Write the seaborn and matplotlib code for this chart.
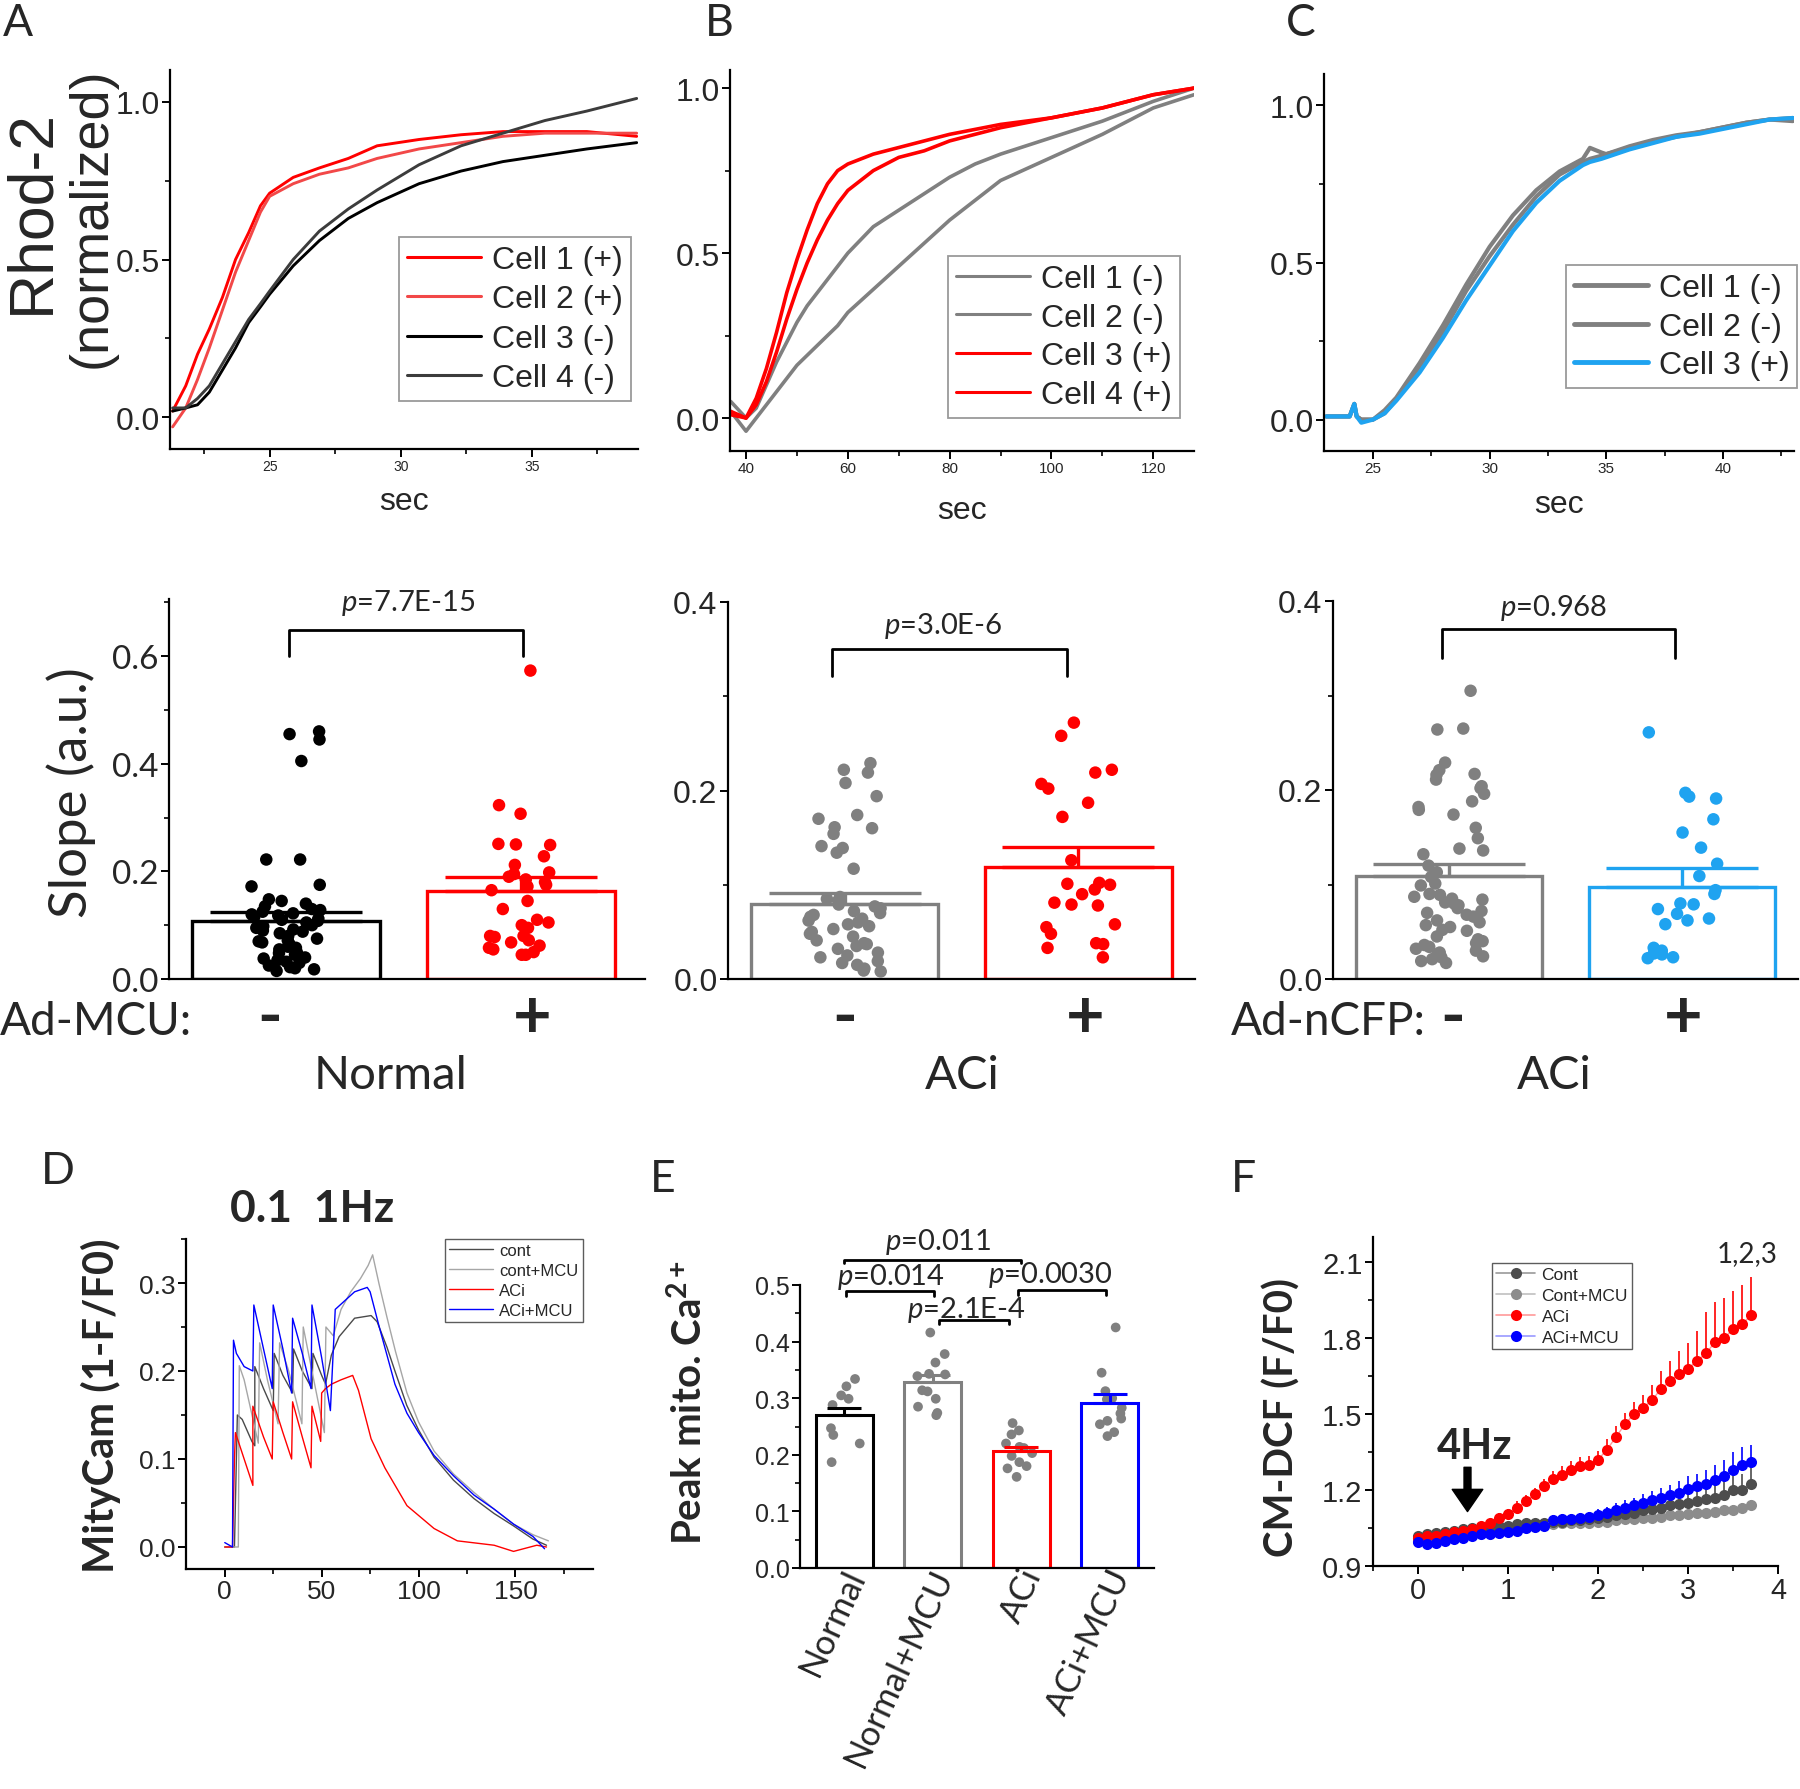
import numpy as np
import matplotlib
matplotlib.use('Agg')
import matplotlib.pyplot as plt
import matplotlib.transforms as transforms
import seaborn as sns
from matplotlib.ticker import MultipleLocator, FormatStrFormatter
from matplotlib.lines import Line2D

# ---------------- A: Rhod-2 traces, Normal ----------------
a_time = [21.3, 21.8, 22.25, 22.7, 23.2, 23.7, 24.2, 24.65, 25.0, 25.9, 26.9, 28.0, 29.1, 30.7, 32.3, 33.9, 35.5, 37.1, 39.0]
a_cell1 = [0.02, 0.10, 0.20, 0.28, 0.38, 0.50, 0.585, 0.67, 0.71, 0.76, 0.79, 0.82, 0.86, 0.88, 0.895, 0.905, 0.905, 0.905, 0.89]
a_cell2 = [-0.03, 0.03, 0.12, 0.22, 0.34, 0.46, 0.56, 0.65, 0.70, 0.74, 0.77, 0.79, 0.82, 0.85, 0.87, 0.89, 0.90, 0.90, 0.90]
a_cell3 = [0.02, 0.03, 0.04, 0.08, 0.15, 0.22, 0.30, 0.35, 0.39, 0.48, 0.56, 0.63, 0.68, 0.74, 0.78, 0.81, 0.83, 0.85, 0.87]
a_cell4 = [0.03, 0.03, 0.06, 0.10, 0.17, 0.24, 0.31, 0.36, 0.40, 0.50, 0.59, 0.66, 0.72, 0.80, 0.86, 0.90, 0.94, 0.97, 1.01]

# ---------------- B: Rhod-2 traces, ACi ----------------
b_time = [37, 40, 42, 44, 46, 48, 50, 52, 54, 56, 58, 60, 65, 70, 75, 80, 85, 90, 100, 110, 120, 128]
b_cell1 = [0.05, 0.0, 0.03, 0.10, 0.17, 0.23, 0.29, 0.34, 0.38, 0.42, 0.46, 0.50, 0.58, 0.63, 0.68, 0.73, 0.77, 0.80, 0.85, 0.90, 0.96, 1.0]
b_cell2 = [0.02, -0.04, 0.0, 0.04, 0.08, 0.12, 0.16, 0.19, 0.22, 0.25, 0.28, 0.32, 0.39, 0.46, 0.53, 0.60, 0.66, 0.72, 0.79, 0.86, 0.94, 0.98]
b_cell3 = [0.02, 0.0, 0.06, 0.15, 0.26, 0.38, 0.48, 0.57, 0.65, 0.71, 0.75, 0.77, 0.80, 0.82, 0.84, 0.86, 0.875, 0.89, 0.91, 0.94, 0.98, 1.0]
b_cell4 = [0.01, 0.0, 0.04, 0.11, 0.20, 0.30, 0.39, 0.47, 0.54, 0.60, 0.65, 0.69, 0.75, 0.79, 0.81, 0.84, 0.86, 0.88, 0.91, 0.94, 0.98, 1.0]

# ---------------- C: Rhod-2 traces, ACi + nCFP ----------------
c_time = [23, 24, 24.2, 24.3, 24.5, 25, 25.5, 26, 27, 28, 29, 30, 31, 32, 33, 34, 34.3, 34.8, 35, 36, 37, 38, 39, 40, 41, 42, 43]
c_cell1 = [0.01, 0.01, 0.05, 0.01, 0.0, 0.0, 0.03, 0.07, 0.18, 0.30, 0.43, 0.55, 0.65, 0.73, 0.79, 0.83, 0.865, 0.85, 0.845, 0.87, 0.89, 0.905, 0.915, 0.93, 0.945, 0.955, 0.95]
c_cell2 = [0.01, 0.01, 0.05, 0.01, 0.0, 0.0, 0.02, 0.065, 0.17, 0.28, 0.41, 0.52, 0.62, 0.71, 0.78, 0.82, 0.83, 0.84, 0.845, 0.865, 0.885, 0.90, 0.915, 0.93, 0.945, 0.955, 0.96]
c_cell3 = [0.01, 0.01, 0.05, 0.01, -0.01, 0.0, 0.02, 0.06, 0.15, 0.26, 0.38, 0.49, 0.60, 0.69, 0.76, 0.81, 0.82, 0.83, 0.835, 0.86, 0.88, 0.90, 0.91, 0.925, 0.94, 0.955, 0.96]

# ---------------- slope dots (bottom row) ----------------
normal_minus = [0.46, 0.455, 0.445, 0.405, 0.222, 0.222, 0.175, 0.172, 0.148, 0.145, 0.14, 0.135, 0.13,
                0.128, 0.125, 0.122, 0.12, 0.118, 0.115, 0.112, 0.11, 0.108, 0.105, 0.10, 0.098, 0.095,
                0.092, 0.09, 0.088, 0.085, 0.08, 0.075, 0.072, 0.07, 0.068, 0.065, 0.06, 0.058, 0.055,
                0.05, 0.048, 0.045, 0.04, 0.038, 0.035, 0.032, 0.03, 0.025, 0.022, 0.02, 0.018, 0.015]
normal_plus = [0.573, 0.323, 0.307, 0.251, 0.249, 0.25, 0.228, 0.212, 0.198, 0.195, 0.19, 0.185, 0.18,
               0.175, 0.172, 0.165, 0.145, 0.13, 0.11, 0.105, 0.10, 0.095, 0.08, 0.08, 0.078, 0.072,
               0.068, 0.062, 0.058, 0.055, 0.05, 0.045, 0.045]
aci_minus = [0.229, 0.222, 0.219, 0.208, 0.194, 0.174, 0.170, 0.161, 0.16, 0.154, 0.141, 0.139, 0.134,
             0.117, 0.087, 0.085, 0.083, 0.079, 0.077, 0.075, 0.072, 0.068, 0.064, 0.060, 0.056, 0.053,
             0.05, 0.045, 0.041, 0.038, 0.037, 0.032, 0.028, 0.023, 0.019, 0.017, 0.011, 0.009, 0.008,
             0.07, 0.066, 0.062, 0.058, 0.048, 0.035, 0.025, 0.015]
aci_plus = [0.272, 0.258, 0.222, 0.219, 0.207, 0.202, 0.187, 0.172, 0.126, 0.102, 0.101, 0.1, 0.095,
            0.09, 0.081, 0.079, 0.078, 0.058, 0.055, 0.048, 0.038, 0.037, 0.033, 0.023]
cfp_minus = [0.305, 0.265, 0.264, 0.229, 0.221, 0.217, 0.216, 0.211, 0.204, 0.202, 0.196, 0.188, 0.182,
             0.179, 0.174, 0.160, 0.149, 0.138, 0.136, 0.132, 0.12, 0.113, 0.108, 0.101, 0.099, 0.089,
             0.087, 0.085, 0.084, 0.081, 0.078, 0.075, 0.072, 0.068, 0.066, 0.062, 0.06, 0.057, 0.052,
             0.051, 0.045, 0.042, 0.038, 0.036, 0.034, 0.032, 0.03, 0.026, 0.023, 0.021, 0.019, 0.017,
             0.09, 0.08, 0.07, 0.055, 0.04, 0.028, 0.024]
cfp_plus = [0.261, 0.197, 0.193, 0.191, 0.169, 0.155, 0.139, 0.122, 0.109, 0.094, 0.09, 0.08, 0.079,
            0.074, 0.069, 0.064, 0.062, 0.058, 0.033, 0.03, 0.027, 0.026, 0.023, 0.022]

slope_means = {'normal': [0.107, 0.164], 'aci': [0.080, 0.119], 'cfp': [0.109, 0.097]}
slope_sems = {'normal': [0.018, 0.025], 'aci': [0.011, 0.021], 'cfp': [0.013, 0.020]}

# ---------------- D: MityCam traces ----------------
d_cont_t = [0, 5, 6.5, 9, 14, 15.5, 15.5, 20, 25, 25.5, 30, 35, 35.5, 40, 45, 45.5, 50, 52, 55, 59, 67,
            75.5, 78.6, 83.7, 87.8, 93.9, 100, 108, 118, 128.6, 139, 149, 159, 166]
d_cont_v = [0.0, 0.0, 0.15, 0.145, 0.12, 0.115, 0.205, 0.18, 0.155, 0.22, 0.195, 0.175, 0.225, 0.20, 0.18,
            0.22, 0.195, 0.185, 0.218, 0.239, 0.26, 0.263, 0.256, 0.227, 0.20, 0.161, 0.133, 0.102, 0.076,
            0.055, 0.038, 0.024, 0.009, 0.002]
d_contm_t = [0, 7, 7.5, 10, 17.3, 18, 22, 27.5, 28.3, 33, 39.8, 40.5, 45, 51.4, 52.2, 56, 60, 65, 70, 74,
             76.3, 79.6, 83.7, 88, 94, 100, 108, 118, 128.6, 139, 149, 159, 167]
d_contm_v = [0.0, 0.0, 0.206, 0.19, 0.118, 0.232, 0.19, 0.14, 0.232, 0.20, 0.14, 0.25, 0.2, 0.13, 0.25,
             0.24, 0.27, 0.29, 0.305, 0.32, 0.332, 0.299, 0.261, 0.223, 0.175, 0.142, 0.109, 0.083, 0.062,
             0.043, 0.026, 0.014, 0.007]
d_aci_t = [0, 4, 5, 5.5, 10, 14.5, 14.5, 20, 24.5, 25, 30, 34.5, 35, 40, 44.5, 45, 49.5, 50, 52, 55, 60,
           66, 69, 75.5, 82.6, 94, 108, 120, 139, 149, 161, 166]
d_aci_v = [0.0, 0.0, 0.1, 0.13, 0.1, 0.07, 0.16, 0.125, 0.10, 0.165, 0.13, 0.10, 0.165, 0.125, 0.09, 0.16,
           0.12, 0.175, 0.18, 0.185, 0.19, 0.195, 0.178, 0.123, 0.09, 0.047, 0.021, 0.007, 0.002, -0.005,
           0.002, 0.0]
d_acim_t = [0, 4, 4.5, 6, 10, 14.5, 15, 20, 24.5, 25, 30, 34.5, 35, 40, 44.5, 45, 50, 54.5, 57, 62, 67,
            73.5, 75, 79.6, 83.7, 87.8, 94, 100, 108, 118, 128.6, 139, 149, 159, 165]
d_acim_v = [0.005, 0.0, 0.235, 0.22, 0.205, 0.20, 0.275, 0.225, 0.18, 0.275, 0.225, 0.175, 0.26, 0.22, 0.18,
            0.275, 0.215, 0.155, 0.27, 0.28, 0.29, 0.295, 0.29, 0.251, 0.218, 0.185, 0.152, 0.13, 0.104,
            0.081, 0.059, 0.043, 0.026, 0.012, -0.002]

# ---------------- E: peak mito Ca ----------------
e_groups = ['Normal', 'Normal+MCU', 'ACi', 'ACi+MCU']
e_normal = [0.334, 0.305, 0.321, 0.299, 0.288, 0.247, 0.235, 0.220, 0.187]
e_normal_mcu = [0.416, 0.378, 0.363, 0.339, 0.342, 0.343, 0.314, 0.312, 0.299, 0.285, 0.274, 0.270]
e_aci = [0.256, 0.243, 0.236, 0.220, 0.212, 0.214, 0.203, 0.198, 0.187, 0.180, 0.176, 0.161]
e_aci_mcu = [0.425, 0.345, 0.3125, 0.300, 0.298, 0.283, 0.264, 0.273, 0.260, 0.254, 0.240, 0.233]
e_means = [0.270, 0.328, 0.206, 0.292]
e_sems = [0.013, 0.013, 0.008, 0.015]

# ---------------- F: CM-DCF ----------------
f_time = [0.0, 0.1, 0.2, 0.3, 0.4, 0.5, 0.6, 0.7, 0.8, 0.9, 1.0, 1.1, 1.2, 1.3, 1.4, 1.5, 1.6, 1.7, 1.8,
          1.9, 2.0, 2.1, 2.2, 2.3, 2.4, 2.5, 2.6, 2.7, 2.8, 2.9, 3.0, 3.1, 3.2, 3.3, 3.4, 3.5, 3.6, 3.7]
f_cont = [1.02, 1.025, 1.03, 1.035, 1.04, 1.045, 1.05, 1.05, 1.055, 1.06, 1.06, 1.065, 1.07, 1.07, 1.07,
          1.075, 1.075, 1.08, 1.08, 1.085, 1.09, 1.095, 1.10, 1.105, 1.11, 1.12, 1.125, 1.13, 1.14, 1.145,
          1.15, 1.155, 1.165, 1.17, 1.18, 1.20, 1.20, 1.225]
f_cont_err = [0.01, 0.01, 0.01, 0.01, 0.01, 0.01, 0.01, 0.01, 0.01, 0.01, 0.01, 0.01, 0.01, 0.01, 0.01,
              0.01, 0.01, 0.01, 0.01, 0.01, 0.015, 0.02, 0.02, 0.025, 0.025, 0.03, 0.03, 0.035, 0.035,
              0.04, 0.04, 0.045, 0.05, 0.05, 0.055, 0.06, 0.065, 0.065]
f_contm = [1.0, 1.01, 1.02, 1.03, 1.035, 1.04, 1.04, 1.045, 1.05, 1.05, 1.055, 1.06, 1.06, 1.06, 1.065,
           1.065, 1.07, 1.07, 1.07, 1.07, 1.075, 1.075, 1.08, 1.085, 1.085, 1.09, 1.09, 1.095, 1.10, 1.10,
           1.105, 1.11, 1.11, 1.115, 1.12, 1.12, 1.13, 1.14]
f_contm_err = [0.01, 0.01, 0.01, 0.01, 0.01, 0.01, 0.01, 0.01, 0.01, 0.01, 0.01, 0.01, 0.01, 0.01, 0.01,
               0.01, 0.01, 0.01, 0.01, 0.01, 0.01, 0.01, 0.012, 0.012, 0.012, 0.012, 0.015, 0.015, 0.015,
               0.015, 0.015, 0.018, 0.018, 0.018, 0.02, 0.02, 0.02, 0.02]
f_aci = [1.01, 1.02, 1.02, 1.025, 1.035, 1.04, 1.045, 1.06, 1.07, 1.09, 1.105, 1.13, 1.155, 1.185, 1.215,
         1.245, 1.26, 1.28, 1.295, 1.30, 1.32, 1.36, 1.41, 1.46, 1.50, 1.525, 1.555, 1.60, 1.63, 1.66,
         1.68, 1.71, 1.74, 1.785, 1.80, 1.835, 1.855, 1.89]
f_aci_err = [0.01, 0.01, 0.01, 0.01, 0.01, 0.01, 0.01, 0.015, 0.015, 0.02, 0.02, 0.025, 0.025, 0.025, 0.03,
             0.03, 0.035, 0.035, 0.035, 0.035, 0.035, 0.04, 0.045, 0.045, 0.05, 0.05, 0.06, 0.07, 0.08,
             0.09, 0.10, 0.12, 0.165, 0.16, 0.16, 0.15, 0.155, 0.15]
f_acim = [0.995, 0.985, 0.99, 1.0, 1.005, 1.01, 1.02, 1.025, 1.025, 1.03, 1.035, 1.04, 1.05, 1.055, 1.06,
          1.08, 1.085, 1.085, 1.09, 1.095, 1.10, 1.11, 1.12, 1.13, 1.14, 1.15, 1.16, 1.17, 1.18, 1.19,
          1.205, 1.215, 1.225, 1.24, 1.255, 1.28, 1.30, 1.31]
f_acim_err = [0.01, 0.01, 0.01, 0.01, 0.01, 0.01, 0.01, 0.01, 0.01, 0.01, 0.015, 0.015, 0.015, 0.015,
              0.02, 0.02, 0.02, 0.02, 0.02, 0.02, 0.025, 0.025, 0.03, 0.03, 0.03, 0.035, 0.035, 0.04,
              0.04, 0.045, 0.05, 0.05, 0.055, 0.06, 0.065, 0.07, 0.07, 0.07]

RED = '#ff0000'
RED2 = '#f24848'
GREY = '#808080'
DGREY = '#3c3c3c'
SKY = '#1fa3f0'
BLUE = '#0000ff'
CAL = 'Lato'

sns.set_style('ticks')
plt.rcParams['font.family'] = ['Liberation Sans', 'DejaVu Sans']
plt.rcParams['mathtext.fontset'] = 'custom'
plt.rcParams['mathtext.rm'] = 'Lato'
plt.rcParams['mathtext.it'] = 'Lato:italic'
plt.rcParams['mathtext.bf'] = 'Lato:bold'

W, H = 1800, 1790
fig = plt.figure(figsize=(18, 17.9), dpi=100, facecolor='white')


def add_ax(l, t, r, b):
    return fig.add_axes([l / W, 1 - b / H, (r - l) / W, (b - t) / H])


def ftext(x, y, s, **kw):
    return fig.text(x / W, 1 - y / H, s, **kw)


def style(ax):
    sns.despine(ax=ax)
    for sp in ('left', 'bottom'):
        ax.spines[sp].set_linewidth(1.6)
        ax.spines[sp].set_color('black')
    ax.tick_params(which='major', direction='out', length=6, width=1.4, color='black', pad=1.5)
    ax.tick_params(which='minor', direction='out', length=3.5, width=1.2, color='black')


def trace_panel(ax, t, series, labels, colors, lw, xlim, ylim, xmaj, xmin, xfs, anchor, legfs, leglw, lsp):
    for y, lab, c in zip(series, labels, colors):
        sns.lineplot(x=t, y=y, color=c, lw=lw, label=lab, estimator=None, sort=False, ax=ax)
    ax.set_xlim(*xlim)
    ax.set_ylim(*ylim)
    style(ax)
    ax.xaxis.set_major_locator(MultipleLocator(xmaj))
    ax.xaxis.set_minor_locator(MultipleLocator(xmin))
    ax.yaxis.set_major_locator(MultipleLocator(0.5))
    ax.yaxis.set_minor_locator(MultipleLocator(0.25))
    ax.yaxis.set_major_formatter(FormatStrFormatter('%.1f'))
    ax.tick_params(axis='y', labelsize=23)
    ax.tick_params(axis='x', labelsize=xfs)
    ax.set_xlabel('')
    ax.set_ylabel('')
    leg = ax.legend(loc='upper left', bbox_to_anchor=anchor, fontsize=legfs, frameon=True,
                    fancybox=False, edgecolor=GREY, handlelength=2.3, handletextpad=0.35,
                    labelspacing=lsp, borderpad=0.25, borderaxespad=0)
    leg.get_frame().set_linewidth(1.3)
    for ln in leg.get_lines():
        ln.set_linewidth(leglw)


def bar_panel(ax, values, dot_colors, bar_colors, means, sems, width, cap, dot_size, jitter, ylim, ymaj, lw=2.4):
    groups = ['g%d' % i for i in range(len(values))]
    xs, ys = [], []
    for g, v in zip(groups, values):
        xs += [g] * len(v)
        ys += list(v)
    sns.stripplot(x=xs, y=ys, hue=xs, order=groups, hue_order=groups,
                  palette=dict(zip(groups, dot_colors)), jitter=jitter, size=dot_size,
                  linewidth=0, legend=False, ax=ax, zorder=3)
    ax.bar(range(len(groups)), means, width=width, color='white', edgecolor=bar_colors,
           linewidth=lw, zorder=1)
    for i, (m, s, c) in enumerate(zip(means, sems, bar_colors)):
        ax.errorbar(i, m, yerr=[[0], [s]], fmt='none', ecolor=c, elinewidth=lw,
                    capsize=cap, capthick=lw, zorder=4)
    ax.set_xlim(-0.5, len(groups) - 0.5)
    ax.set_ylim(*ylim)
    style(ax)
    ax.yaxis.set_major_locator(MultipleLocator(ymaj))
    ax.yaxis.set_minor_locator(MultipleLocator(ymaj / 2))
    ax.yaxis.set_major_formatter(FormatStrFormatter('%.1f'))
    ax.tick_params(axis='x', length=0)
    ax.set_xticks([])


def bracket(ax, x0, x1, ytop, ybot, txt, tx, ty, fs):
    ax.plot([x0, x0, x1, x1], [ybot, ytop, ytop, ybot], color='black', lw=2, clip_on=False, zorder=5)
    ax.text(tx, ty, txt, ha='center', va='center', fontsize=fs, family=CAL, clip_on=False)


np.random.seed(4)

# ---------------- top row ----------------
axA = add_ax(170, 71, 638, 450)
trace_panel(axA, a_time, [a_cell1, a_cell2, a_cell3, a_cell4],
            ['Cell 1 (+)', 'Cell 2 (+)', 'Cell 3 (-)', 'Cell 4 (-)'],
            [RED, RED2, 'black', DGREY], 2.1, (21.2, 39.05), (-0.1, 1.1), 5, 2.5, 10,
            (0.49, 0.56), 23, 2.2, 0.3)
axB = add_ax(730, 71, 1194, 452)
trace_panel(axB, b_time, [b_cell1, b_cell2, b_cell3, b_cell4],
            ['Cell 1 (-)', 'Cell 2 (-)', 'Cell 3 (+)', 'Cell 4 (+)'],
            [GREY, GREY, RED, RED], 2.6, (36.85, 128), (-0.1, 1.055), 20, 10, 11,
            (0.47, 0.512), 23, 2.2, 0.27)
axC = add_ax(1324, 75, 1794, 452)
trace_panel(axC, c_time, [c_cell1, c_cell2, c_cell3],
            ['Cell 1 (-)', 'Cell 2 (-)', 'Cell 3 (+)'],
            [GREY, GREY, SKY], 3.0, (22.9, 43.05), (-0.1, 1.1), 5, 2.5, 11,
            (0.515, 0.493), 23, 3.5, 0.27)

ftext(32, 212, 'Rhod-2', rotation=90, ha='center', va='center', fontsize=45)
ftext(92, 218, '(normalized)', rotation=90, ha='center', va='center', fontsize=39)
ftext(404, 502, 'sec', ha='center', va='center', fontsize=23)
ftext(962, 511, 'sec', ha='center', va='center', fontsize=23)
ftext(1559, 505, 'sec', ha='center', va='center', fontsize=23)

# ---------------- middle row ----------------
axA2 = add_ax(169, 600, 645, 980)
bar_panel(axA2, [normal_minus, normal_plus], ['black', RED], ['black', RED],
          slope_means['normal'], slope_sems['normal'], 0.8, 55, 9, 0.15, (0, 0.706), 0.2)
axA2.set_xlim(-0.5, 1.53)
axA2.tick_params(axis='y', labelsize=24)
for lab in axA2.get_yticklabels():
    lab.set_family(CAL)
bracket(axA2, 0.01, 1.01, 0.648, 0.60, '$p$=7.7E-15', 0.52, 0.70, 21)

axB2 = add_ax(728, 603, 1195, 980)
bar_panel(axB2, [aci_minus, aci_plus], [GREY, RED], [GREY, RED],
          slope_means['aci'], slope_sems['aci'], 0.8, 55, 9, 0.16, (0, 0.4), 0.2)
axB2.tick_params(axis='y', labelsize=23)
bracket(axB2, -0.055, 0.95, 0.350, 0.321, '$p$=3.0E-6', 0.42, 0.376, 21)

axC2 = add_ax(1333, 602, 1798, 980)
bar_panel(axC2, [cfp_minus, cfp_plus], [GREY, SKY], [GREY, SKY],
          slope_means['cfp'], slope_sems['cfp'], 0.8, 55, 9, 0.16, (0, 0.4), 0.2)
axC2.tick_params(axis='y', labelsize=23)
bracket(axC2, -0.03, 0.97, 0.370, 0.340, '$p$=0.968', 0.45, 0.394, 21)

ftext(71, 793, 'Slope (a.u.)', rotation=90, ha='center', va='center', fontsize=38, family=CAL)
for x, s in [(270, '-'), (532, '+'), (845, '-'), (1085, '+'), (1453, '-'), (1683, '+')]:
    ftext(x, 1019, s, ha='center', va='center', fontsize=48, family=CAL, weight='bold')
ftext(0, 1022, 'Ad-MCU:', ha='left', va='center', fontsize=33, family=CAL)
ftext(1231, 1022, 'Ad-nCFP:', ha='left', va='center', fontsize=33, family=CAL)
ftext(391, 1076, 'Normal', ha='center', va='center', fontsize=34, family=CAL)
ftext(962, 1076, 'ACi', ha='center', va='center', fontsize=34, family=CAL)
ftext(1554, 1076, 'ACi', ha='center', va='center', fontsize=34, family=CAL)

# ---------------- D ----------------
axD = add_ax(186, 1240, 593, 1570)
for t, v, c, lab in [(d_cont_t, d_cont_v, '#4a4a4a', 'cont'),
                     (d_contm_t, d_contm_v, '#a6a6a6', 'cont+MCU'),
                     (d_aci_t, d_aci_v, RED, 'ACi'),
                     (d_acim_t, d_acim_v, BLUE, 'ACi+MCU')]:
    sns.lineplot(x=t, y=v, color=c, lw=1.0, label=lab, estimator=None, sort=False, ax=axD)
axD.set_xlim(-20, 190)
axD.set_ylim(-0.025, 0.35)
style(axD)
axD.xaxis.set_major_locator(MultipleLocator(50))
axD.xaxis.set_minor_locator(MultipleLocator(25))
axD.yaxis.set_major_locator(MultipleLocator(0.1))
axD.yaxis.set_minor_locator(MultipleLocator(0.05))
axD.yaxis.set_major_formatter(FormatStrFormatter('%.1f'))
axD.tick_params(labelsize=19)
axD.set_xlabel('')
axD.set_ylabel('')
legD = axD.legend(loc='upper left', bbox_to_anchor=(0.637, 1.0), fontsize=12, frameon=True,
                  fancybox=False, edgecolor='#333333', handlelength=2.6, handletextpad=0.4,
                  labelspacing=0.3, borderpad=0.25, borderaxespad=0)
legD.get_frame().set_linewidth(1.0)
ftext(312, 1209, '0.1  1Hz', ha='center', va='center', fontsize=32, family=CAL, weight='bold')
ftext(101, 1406, 'MityCam (1-F/F0)', rotation=90, ha='center', va='center', fontsize=30,
      family=CAL, weight='bold')

# ---------------- E ----------------
axE = add_ax(800, 1286, 1154, 1569)
bar_panel(axE, [e_normal, e_normal_mcu, e_aci, e_aci_mcu], [GREY] * 4,
          ['black', GREY, RED, BLUE], e_means, e_sems, 0.64, 12, 7, 0.18, (0, 0.5), 0.1, lw=2.2)
axE.tick_params(axis='y', labelsize=18)
axE.set_xticks(range(4))
axE.set_xticklabels(e_groups, rotation=65, ha='right', va='center', rotation_mode='anchor',
                    fontsize=25, family=CAL)
offset = transforms.ScaledTranslation(0.12, 0, fig.dpi_scale_trans)
for lab in axE.get_xticklabels():
    lab.set_transform(lab.get_transform() + offset)
bracket(axE, 0, 2, 0.545, 0.538, '$p$=0.011', 1.06, 0.578, 21)
bracket(axE, 0.02, 1.01, 0.490, 0.481, '$p$=0.014', 0.53, 0.516, 21)
bracket(axE, 1.065, 1.865, 0.438, 0.431, '$p$=2.1E-4', 1.38, 0.458, 21)
bracket(axE, 1.966, 2.955, 0.492, 0.483, '$p$=0.0030', 2.33, 0.520, 21)
ftext(689, 1403, 'Peak mito. Ca$^{\\mathbf{2+}}$', rotation=90, ha='center', va='center',
      fontsize=29, family=CAL, weight='bold')

# ---------------- F ----------------
axF = add_ax(1373, 1238, 1778, 1567)
f_series = [(f_contm, f_contm_err, '#8c8c8c', '#c0c0c0', 'Cont+MCU'),
            (f_cont, f_cont_err, '#4d4d4d', '#9a9a9a', 'Cont'),
            (f_aci, f_aci_err, RED, '#ff9a9a', 'ACi'),
            (f_acim, f_acim_err, BLUE, '#9a9aff', 'ACi+MCU')]
for v, e, c, lc, lab in f_series:
    axF.errorbar(f_time, v, yerr=[[0] * len(e), e], fmt='none', ecolor=c, elinewidth=1.2, zorder=2)
    sns.lineplot(x=f_time, y=v, color=lc, lw=1, marker='o', markersize=8, markerfacecolor=c,
                 markeredgewidth=0, estimator=None, sort=False, ax=axF, zorder=3)
axF.set_xlim(-0.5, 4)
axF.set_ylim(0.9, 2.2)
style(axF)
axF.xaxis.set_major_locator(MultipleLocator(1))
axF.xaxis.set_minor_locator(MultipleLocator(0.5))
axF.yaxis.set_major_locator(MultipleLocator(0.3))
axF.yaxis.set_minor_locator(MultipleLocator(0.15))
axF.yaxis.set_major_formatter(FormatStrFormatter('%.1f'))
axF.tick_params(labelsize=21)
axF.set_xlabel('')
axF.set_ylabel('')
handles = [Line2D([], [], color=lc, lw=1.2, marker='o', markersize=8, markerfacecolor=c,
                  markeredgewidth=0) for v, e, c, lc, lab in
           [f_series[1], f_series[0], f_series[2], f_series[3]]]
legF = axF.legend(handles, ['Cont', 'Cont+MCU', 'ACi', 'ACi+MCU'], loc='upper left',
                  bbox_to_anchor=(0.294, 0.921), fontsize=12.5, frameon=True, fancybox=False,
                  edgecolor='#333333', handlelength=2.2, handletextpad=0.4, labelspacing=0.32,
                  borderpad=0.25, borderaxespad=0)
legF.get_frame().set_linewidth(1.0)
axF.annotate('', xy=(0.55, 1.115), xytext=(0.55, 1.29),
             arrowprops=dict(facecolor='black', edgecolor='black', width=5, headwidth=22, headlength=16))
axF.text(0.63, 1.376, '4Hz', ha='center', va='center', fontsize=30, family=CAL, weight='bold')
axF.text(3.66, 2.136, '1,2,3', ha='center', va='center', fontsize=20, family=CAL, clip_on=False)
ftext(1282, 1418, 'CM-DCF (F/F0)', rotation=90, ha='center', va='center', fontsize=29,
      family=CAL, weight='bold')

# ---------------- panel letters ----------------
for x, y, s in [(3, 3, 'A'), (705, 3, 'B'), (1286, 3, 'C'), (41, 1151, 'D'), (650, 1159, 'E'), (1231, 1159, 'F')]:
    ftext(x, y, s, ha='left', va='top', fontsize=32, family=CAL)

fig.savefig('out.png', dpi=100, facecolor='white')
